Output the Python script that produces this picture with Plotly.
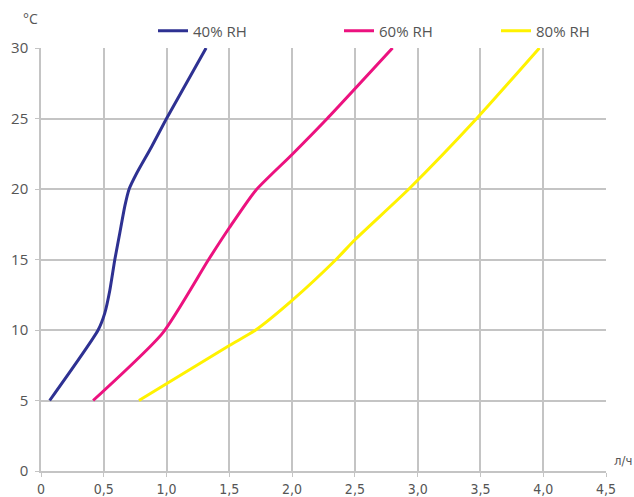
import plotly.graph_objects as go

# values (x = л/ч, y = °C)
rh40_x = [0.069, 0.455, 0.508, 0.548, 0.588, 0.628, 0.668, 0.702, 0.761, 0.881, 1.0, 1.315]
rh40_t = [5, 10.0, 11.2, 12.8, 15.0, 16.9, 18.8, 20.0, 21.1, 23.0, 25, 30]
rh60_x = [0.415, 0.97, 1.335, 1.50, 1.71, 2.0, 2.28, 2.80]
rh60_t = [5, 9.8, 15.0, 17.25, 19.9, 22.45, 25, 30]
rh80_x = [0.78, 1.5, 1.71, 2.0, 2.35, 2.50, 2.93, 3.47, 3.97]
rh80_t = [5, 8.9, 10.0, 12.1, 15.0, 16.4, 20.0, 25, 30]

series_names = ["40% RH", "60% RH", "80% RH"]
colors = ["#2e3192", "#ec127f", "#fff200"]
x_ticks = [0, 0.5, 1.0, 1.5, 2.0, 2.5, 3.0, 3.5, 4.0, 4.5]
x_tick_labels = ["0", "0,5", "1,0", "1,5", "2,0", "2,5", "3,0", "3,5", "4,0", "4,5"]
y_ticks = [0, 5, 10, 15, 20, 25, 30]

legend_ids = ["legend", "legend2", "legend3"]
legend_x = [153 / 634, 339 / 634, 496 / 634]

fig = go.Figure()
for name, xs, ts, col, lg in zip(series_names, [rh40_x, rh60_x, rh80_x],
                                 [rh40_t, rh60_t, rh80_t], colors, legend_ids):
    fig.add_trace(go.Scatter(
        x=xs, y=ts, mode="lines", name=name, legend=lg,
        line=dict(color=col, width=3, shape="spline", smoothing=0.6),
    ))

grid = "#c4c4c4"
txt = "#555555"
legend_style = {}
for lg, lx in zip(legend_ids, legend_x):
    legend_style[lg] = dict(
        orientation="h", xref="container", yref="container",
        x=lx, y=1 - 31 / 497, xanchor="left", yanchor="middle",
        font=dict(family="Open Sans", size=15, color=txt),
        bgcolor="rgba(0,0,0,0)", itemwidth=30,
    )

narrow = "Liberation Sans Narrow, DejaVu Sans Condensed, Roboto Condensed, Liberation Sans"
fig.update_layout(
    width=634, height=497,
    margin=dict(l=41, r=28, t=48, b=26, autoexpand=False),
    plot_bgcolor="white", paper_bgcolor="white",
    showlegend=True,
    **legend_style,
    xaxis=dict(range=[0, 4.5], tickvals=x_ticks, ticktext=x_tick_labels,
               showgrid=True, gridcolor=grid, gridwidth=1.5,
               showline=True, linecolor=grid, linewidth=1.5,
               ticks="outside", ticklen=4, tickcolor=grid, zeroline=False,
               automargin=False,
               tickfont=dict(family=narrow, size=14, color=txt)),
    yaxis=dict(range=[0, 30], tickvals=y_ticks,
               showgrid=True, gridcolor=grid, gridwidth=1.5,
               showline=True, linecolor=grid, linewidth=1.5,
               ticks="outside", ticklen=4, tickcolor=grid, zeroline=False,
               automargin=False, ticklabelstandoff=4,
               tickfont=dict(family="Open Sans", size=15, color=txt)),
    annotations=[
        dict(text="°C", xref="paper", yref="paper", x=0.0, y=1.0, xshift=-1, yshift=18,
             xanchor="right", yanchor="bottom", showarrow=False,
             font=dict(family="Open Sans", size=14, color=txt)),
        dict(text="л/ч", xref="paper", yref="paper", x=1.0, y=0.0, xshift=6, yshift=1,
             xanchor="left", yanchor="bottom", showarrow=False,
             font=dict(family=narrow, size=13, color=txt)),
    ],
)
fig.write_html("out.html", config={"displayModeBar": False},
               post_script="document.body.style.margin='0';")
